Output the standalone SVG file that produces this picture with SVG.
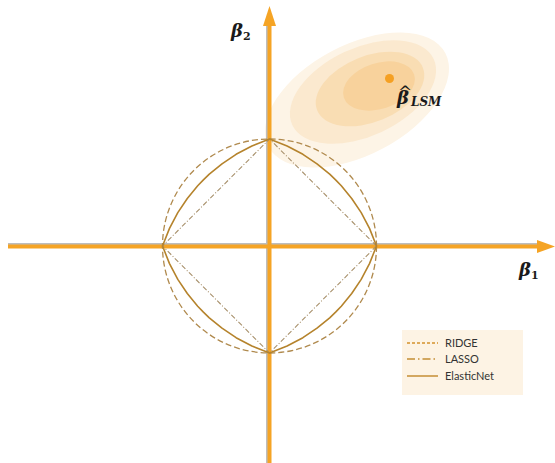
<svg xmlns="http://www.w3.org/2000/svg" width="555" height="463" viewBox="0 0 555 463">
<style>
.lbl{font-family:"DejaVu Serif","Liberation Serif",serif;font-weight:bold;font-style:italic;fill:#1a1a1a}
.sub{font-family:"DejaVu Serif","Liberation Serif",serif;font-weight:bold;fill:#1a1a1a}
.leg{font-family:Lato,"Open Sans",sans-serif;font-size:11px;fill:#333}
.ridge{fill:none;stroke:#b08a4e;stroke-width:1.3;stroke-dasharray:6 3}
.lasso{fill:none;stroke:#a8916c;stroke-width:1.1;stroke-dasharray:5 2 1 2}
.enet{fill:none;stroke:#b5832c;stroke-width:1.6;stroke-linejoin:round}
.shadow{stroke:#bdbdbd;stroke-width:4}
.axis{stroke:#f5a425;stroke-width:4}
</style>
<rect width="555" height="463" fill="#fff"/>
<g id="contours">
<ellipse cx="357" cy="100" rx="100" ry="55" transform="rotate(-28 357 100)" fill="#fdf4e6"/>
<ellipse cx="363" cy="92" rx="78" ry="44" transform="rotate(-25 363 92)" fill="#fbe9cf"/>
<ellipse cx="370" cy="89" rx="57" ry="33" transform="rotate(-22 370 89)" fill="#f9ddb3"/>
<ellipse cx="379" cy="86" rx="37" ry="23" transform="rotate(-18 379 86)" fill="#f8d29c"/>
</g>
<g id="axes">
<line class="shadow" x1="8" y1="245" x2="540" y2="245"/>
<line class="shadow" x1="268" y1="463" x2="268" y2="24"/>
<line class="axis" x1="8" y1="246.5" x2="540" y2="246.5"/>
<line class="axis" x1="269.5" y1="463" x2="269.5" y2="24"/>
<polygon points="555,246.5 537,240 537,253" fill="#f5a425"/>
<polygon points="269.5,6 263,26 276,26" fill="#f5a425"/>
</g>
<g id="connectors">
<circle class="ridge" cx="269.5" cy="246" r="107"/>
<polygon class="lasso" points="376.5,246 269.5,139 162.5,246 269.5,353"/>
<path class="enet" d="M376.5,246 L369.5,228.4 L361.2,212.6 L351.7,198.5 L341.3,185.8 L335.6,179.9 L329.7,174.2 L317,163.8 L302.9,154.3 L287.1,146 L269.5,139 L251.9,146 L236.1,154.3 L222,163.8 L209.3,174.2 L203.4,179.9 L197.7,185.8 L187.3,198.5 L177.8,212.6 L169.5,228.4 L162.5,246 L169.5,263.6 L177.8,279.4 L187.3,293.5 L197.7,306.2 L203.4,312.1 L209.3,317.8 L222,328.2 L236.1,337.7 L251.9,346 L269.5,353 L287.1,346 L302.9,337.7 L317,328.2 L329.7,317.8 L335.6,312.1 L341.3,306.2 L351.7,293.5 L361.2,279.4 L369.5,263.6 Z"/>
</g>
<g id="lsm">
<circle cx="389.5" cy="78.5" r="4.5" fill="#f5a023"/>
<text class="lbl" x="397" y="104" font-size="18">β<tspan x="398" y="98" font-style="normal" font-weight="normal" font-size="17">^</tspan><tspan x="411" y="106" font-size="12">LSM</tspan></text>
</g>
<g id="beta2">
<text class="lbl" x="231" y="37" font-size="18">β<tspan class="sub" font-style="normal" font-size="11" dy="3">2</tspan></text>
</g>
<g id="beta1">
<text class="lbl" x="519" y="276" font-size="18">β<tspan class="sub" font-style="normal" font-size="11" dy="3">1</tspan></text>
</g>
<g id="legend">
<rect x="402" y="330" width="121" height="65" fill="#fdf3e4"/>
<line x1="407" y1="343" x2="438" y2="343" stroke="#d4922c" stroke-width="1.3" stroke-dasharray="3 2"/>
<line x1="407" y1="359" x2="438" y2="359" stroke="#c48e34" stroke-width="1.5" stroke-dasharray="8 3 1.5 3"/>
<line x1="407" y1="376" x2="438" y2="376" stroke="#c48e34" stroke-width="1.5"/>
<text class="leg" x="445" y="347">RIDGE</text>
<text class="leg" x="445" y="363">LASSO</text>
<text class="leg" x="445" y="380">ElasticNet</text>
</g>
</svg>
